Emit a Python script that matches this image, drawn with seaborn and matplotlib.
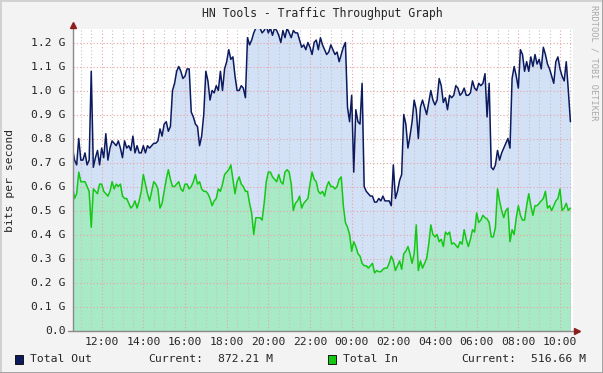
import matplotlib
matplotlib.use("Agg")
import matplotlib.pyplot as plt
import matplotlib.dates as mdates
from matplotlib.patches import Rectangle
from matplotlib.lines import Line2D
import seaborn as sns
import pandas as pd

# Time axis: 6-minute samples over one day
START = "2024-01-01 10:36"
STEP = "6min"

# Values in Gbit/s
total_out = [
    0.76, 0.71, 0.69, 0.80, 0.71, 0.71, 0.74, 0.69, 0.71, 1.08,
    0.68, 0.72, 0.75, 0.69, 0.76, 0.72, 0.82, 0.71, 0.76, 0.79,
    0.78, 0.77, 0.79, 0.76, 0.72, 0.79, 0.76, 0.77, 0.75, 0.81,
    0.74, 0.77, 0.74, 0.74, 0.77, 0.74, 0.77, 0.76, 0.77, 0.78,
    0.78, 0.79, 0.84, 0.81, 0.86, 0.87, 0.83, 0.85, 1.00, 1.03,
    1.08, 1.10, 1.08, 1.05, 1.06, 1.09, 1.09, 0.91, 0.89, 0.86,
    0.85, 0.77, 0.81, 0.90, 1.08, 1.04, 0.96, 1.00, 0.99, 1.02,
    1.00, 1.08, 1.00, 1.09, 1.12, 1.17, 1.13, 1.14, 1.06, 1.00,
    1.00, 1.02, 1.01, 0.97, 1.22, 1.19, 1.21, 1.24, 1.26, 1.27,
    1.26, 1.24, 1.25, 1.27, 1.24, 1.26, 1.23, 1.26, 1.25, 1.23,
    1.20, 1.25, 1.22, 1.26, 1.24, 1.22, 1.25, 1.24, 1.24, 1.21,
    1.18, 1.19, 1.17, 1.20, 1.18, 1.15, 1.20, 1.21, 1.17, 1.22,
    1.19, 1.17, 1.15, 1.16, 1.19, 1.17, 1.15, 1.16, 1.12, 1.15,
    1.18, 1.20, 0.93, 0.87, 0.98, 0.66, 0.92, 0.87, 0.86, 1.03,
    0.60, 0.58, 0.57, 0.56, 0.56, 0.535, 0.535, 0.55, 0.54, 0.56,
    0.54, 0.54, 0.54, 0.52, 0.69, 0.55, 0.58, 0.625, 0.65, 0.90,
    0.86, 0.76, 0.81, 0.87, 0.96, 0.92, 0.80, 0.93, 0.96, 0.93,
    0.90, 0.95, 1.00, 0.96, 0.94, 0.96, 1.05, 1.02, 0.95, 0.97,
    0.92, 0.98, 0.97, 0.98, 1.02, 1.01, 0.98, 0.99, 1.01, 0.98,
    0.98, 0.99, 1.04, 1.01, 1.00, 1.03, 1.02, 1.03, 1.07, 0.89,
    1.03, 0.68, 0.67, 0.69, 0.75, 0.71, 0.74, 0.76, 0.78, 0.80,
    0.76, 1.05, 1.10, 1.06, 1.01, 1.17, 1.15, 1.08, 1.12, 1.08,
    1.14, 1.10, 1.15, 1.11, 1.13, 1.09, 1.18, 1.15, 1.11, 1.09,
    1.06, 1.03, 1.12, 1.14, 1.09, 1.06, 1.04, 1.12, 1.00, 0.87,
]

total_in = [
    0.60, 0.55, 0.57, 0.66, 0.62, 0.62, 0.62, 0.60, 0.58, 0.43,
    0.59, 0.58, 0.57, 0.61, 0.61, 0.58, 0.57, 0.56, 0.58, 0.62,
    0.59, 0.61, 0.60, 0.61, 0.56, 0.55, 0.55, 0.53, 0.51, 0.52,
    0.54, 0.51, 0.54, 0.58, 0.65, 0.61, 0.57, 0.54, 0.58, 0.62,
    0.61, 0.59, 0.51, 0.53, 0.58, 0.63, 0.67, 0.63, 0.60, 0.60,
    0.61, 0.62, 0.59, 0.58, 0.61, 0.61, 0.59, 0.60, 0.62, 0.65,
    0.61, 0.62, 0.59, 0.58, 0.58, 0.57, 0.55, 0.52, 0.54, 0.55,
    0.59, 0.58, 0.61, 0.65, 0.66, 0.67, 0.69, 0.63, 0.57, 0.62,
    0.64, 0.61, 0.60, 0.58, 0.58, 0.53, 0.49, 0.40, 0.47, 0.47,
    0.47, 0.46, 0.53, 0.62, 0.66, 0.66, 0.64, 0.63, 0.62, 0.65,
    0.62, 0.61, 0.66, 0.67, 0.66, 0.61, 0.50, 0.53, 0.54, 0.56,
    0.51, 0.53, 0.54, 0.55, 0.61, 0.66, 0.63, 0.62, 0.58, 0.57,
    0.58, 0.56, 0.60, 0.62, 0.60, 0.60, 0.59, 0.60, 0.63, 0.64,
    0.52, 0.45, 0.43, 0.40, 0.33, 0.37, 0.35, 0.32, 0.31, 0.28,
    0.27, 0.27, 0.26, 0.27, 0.28, 0.24, 0.25, 0.245, 0.245, 0.255,
    0.26, 0.26, 0.28, 0.31, 0.29, 0.25, 0.27, 0.29, 0.255, 0.32,
    0.33, 0.35, 0.32, 0.28, 0.32, 0.44, 0.25, 0.29, 0.26, 0.28,
    0.30, 0.36, 0.44, 0.40, 0.39, 0.40, 0.37, 0.38, 0.35, 0.41,
    0.40, 0.41, 0.36, 0.365, 0.355, 0.345, 0.37, 0.36, 0.42, 0.38,
    0.35, 0.38, 0.42, 0.41, 0.49, 0.45, 0.46, 0.48, 0.47, 0.465,
    0.45, 0.39, 0.39, 0.43, 0.59, 0.54, 0.50, 0.47, 0.50, 0.51,
    0.37, 0.42, 0.40, 0.47, 0.52, 0.48, 0.46, 0.46, 0.52, 0.57,
    0.52, 0.48, 0.52, 0.52, 0.53, 0.54, 0.55, 0.58, 0.51, 0.52,
    0.50, 0.52, 0.54, 0.55, 0.59, 0.50, 0.51, 0.53, 0.50, 0.51,
]

series_names = ["Total Out", "Total In"]
current_labels = ["872.21 M", "516.66 M"]
line_colors = ["#0C1A5E", "#14C814"]
fill_colors = ["#D2E1F6", "#A8E9C6"]
y_ticks = [0.0, 0.1, 0.2, 0.3, 0.4, 0.5, 0.6, 0.7, 0.8, 0.9, 1.0, 1.1, 1.2]

times = pd.date_range(START, periods=len(total_out), freq=STEP)
df = pd.DataFrame({"time": times, "Total Out": total_out, "Total In": total_in})
long = df.melt(id_vars="time", var_name="series", value_name="gbps")

sns.set_style("white")
plt.rcParams["font.family"] = ["DejaVu Sans Mono"]
plt.rcParams["font.size"] = 8.2

W, H = 603, 373
fig = plt.figure(figsize=(W / 100, H / 100), dpi=100, facecolor="#F3F3F3")
ax = fig.add_axes([72.5 / W, 1 - 330.5 / H, 500 / W, 301.2 / H])
ax.set_facecolor("white")

# areas first, grid on top of them, lines last
ax.fill_between(df["time"], 0, df["Total Out"], color=fill_colors[0], lw=0, zorder=1)
ax.fill_between(df["time"], 0, df["Total In"], color=fill_colors[1], lw=0, zorder=1.1)
sns.lineplot(data=long, x="time", y="gbps", hue="series", hue_order=series_names,
             palette=line_colors, lw=1.1, legend=False, ax=ax, zorder=3)

ax.set_xlim(times[0], times[0] + pd.Timedelta(hours=24))
ax.set_ylim(0, 1.255)
ax.set_xlabel("")
ax.set_ylabel("")

ax.xaxis.set_major_locator(mdates.HourLocator(byhour=range(0, 24, 2)))
ax.xaxis.set_major_formatter(mdates.DateFormatter("%H:%M"))
ax.xaxis.set_minor_locator(mdates.MinuteLocator(byminute=[0, 30]))
ax.set_yticks(y_ticks)
ax.set_yticklabels(["0.0" if v == 0 else f"{v:.1f} G" for v in y_ticks])

ax.set_axisbelow("line")
ax.grid(True, which="major", axis="both", color="#E9A3A3", ls=(0, (1, 2)), lw=0.8)
ax.grid(True, which="minor", axis="x", color="#C4C4C4", ls=(0, (1, 2)), lw=0.8)
ax.tick_params(which="both", length=0)
ax.tick_params(axis="x", pad=4.5)
ax.tick_params(axis="y", pad=5)

for s in ax.spines.values():
    s.set_visible(False)

# axis lines with small arrow heads
axis_col = "#8A8A8A"
arrow_col = "#8B1F1F"
ax.add_line(Line2D([0, 0], [0, 1.01], transform=ax.transAxes, color=axis_col,
                   lw=1, clip_on=False, zorder=4))
ax.add_line(Line2D([-0.009, 1.005], [0, 0], transform=ax.transAxes, color=axis_col,
                   lw=1, clip_on=False, zorder=4))
ax.plot([0], [1.014], marker="^", ms=4, color=arrow_col, transform=ax.transAxes,
        clip_on=False, zorder=5)
ax.plot([1.009], [0], marker=">", ms=4, color=arrow_col, transform=ax.transAxes,
        clip_on=False, zorder=5)

fig.text(322.5 / W, 1 - 13 / H, "HN Tools - Traffic Throughput Graph",
         ha="center", va="center", size=8.3)
fig.text(10 / W, 1 - 180 / H, "bits per second", rotation=90,
         ha="center", va="center", size=8.2)
fig.text(594 / W, 1 - 5 / H, "RRDTOOL / TOBI OETIKER", rotation=270,
         ha="center", va="top", color="#A8A8A8", size=6.2)

# legend row at the bottom
legend_x = [15, 328]
for k, name in enumerate(series_names):
    x0 = legend_x[k]
    fig.add_artist(Rectangle((x0 / W, 1 - 364 / H), 8 / W, 9 / H,
                             transform=fig.transFigure, facecolor=line_colors[k] if k else "#0C1A5E",
                             edgecolor="black", lw=0.6))
    fig.text((x0 + 15) / W, 1 - 359.5 / H, name, ha="left", va="center")
    fig.text((x0 + 133) / W, 1 - 359.5 / H, "Current:", ha="left", va="center")
    fig.text((x0 + 203) / W, 1 - 359.5 / H, current_labels[k], ha="left", va="center")

# 3d-ish frame
fig.add_artist(Line2D([0, 1], [1, 1], transform=fig.transFigure, color="#D0D0D0", lw=2))
fig.add_artist(Line2D([0, 0], [0, 1], transform=fig.transFigure, color="#D0D0D0", lw=2))
fig.add_artist(Line2D([0, 1], [0, 0], transform=fig.transFigure, color="#9C9C9C", lw=2))
fig.add_artist(Line2D([1, 1], [0, 1], transform=fig.transFigure, color="#9C9C9C", lw=2))

fig.savefig("out.png", dpi=100, facecolor=fig.get_facecolor())
